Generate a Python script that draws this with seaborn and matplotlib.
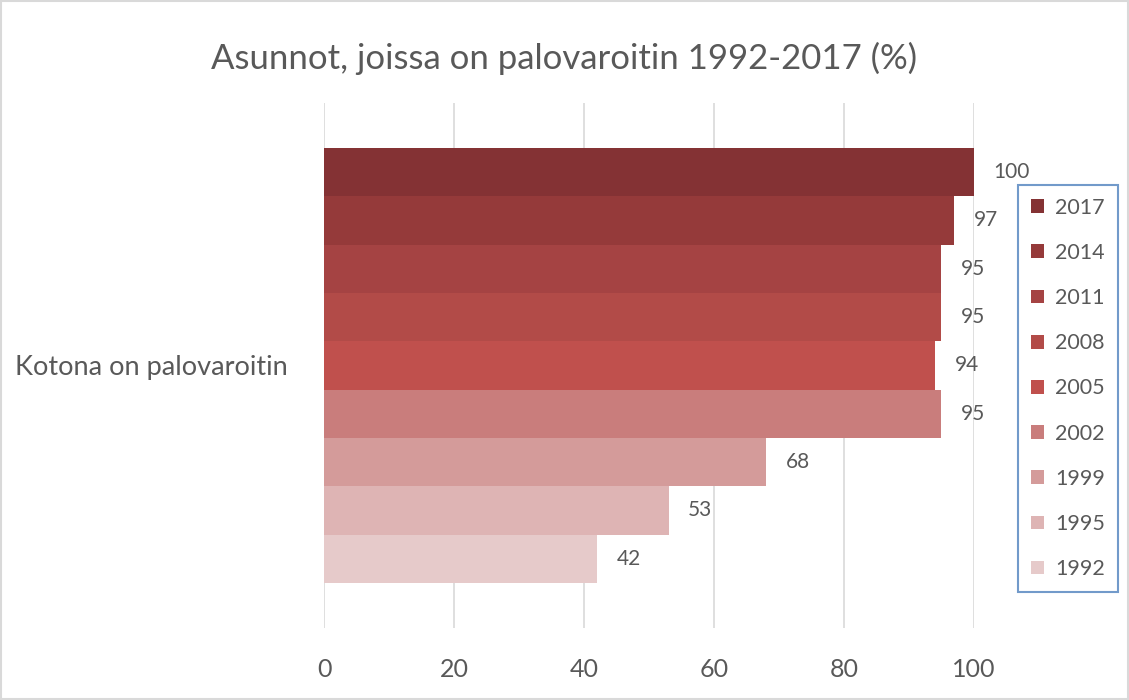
import matplotlib.pyplot as plt
import seaborn as sns
import pandas as pd

# data (top to bottom as in the chart)
vuodet = ['2017', '2014', '2011', '2008', '2005', '2002', '1999', '1995', '1992']
osuudet = [100, 97, 95, 95, 94, 95, 68, 53, 42]
kategoria = 'Kotona on palovaroitin'
varit = ['#843234', '#953A3A', '#A54343', '#B24B48', '#C0504D',
         '#C97D7C', '#D49B9A', '#DEB4B4', '#E6CACA']

df = pd.DataFrame({'Kategoria': [kategoria] * len(vuodet),
                   'Vuosi': vuodet,
                   'Osuus': osuudet})

sns.set_theme(style='white')
plt.rcParams['font.family'] = ['Lato', 'DejaVu Sans']
tekstivari = '#595959'

fig = plt.figure(figsize=(11.29, 7), dpi=100)
ax = fig.add_axes([0.287, 0.103, 0.5757, 0.750])

sns.barplot(data=df, y='Kategoria', x='Osuus', hue='Vuosi', hue_order=vuodet,
            palette=varit, orient='h', width=0.829, gap=0, saturation=1,
            linewidth=0, ax=ax, legend=True)

ax.set_xlim(0, 100)
ax.set_ylim(0.5, -0.5)
ax.set_xticks([0, 20, 40, 60, 80, 100])
ax.grid(axis='x', color='#D9D9D9', linewidth=1.2)
ax.set_axisbelow(True)
for s in ax.spines.values():
    s.set_visible(False)
ax.tick_params(axis='x', labelsize=18, colors=tekstivari, length=0, pad=22)
ax.tick_params(axis='y', labelsize=19.5, colors=tekstivari, length=0, pad=26)
ax.set_xlabel('')
ax.set_ylabel('')

for cont in ax.containers:
    ax.bar_label(cont, fmt='%d', padding=14, fontsize=15, color=tekstivari, clip_on=False)

fig.suptitle('Asunnot, joissa on palovaroitin 1992-2017 (%)', y=0.94,
             fontsize=25, color=tekstivari)

handles, labels = ax.get_legend_handles_labels()
ax.legend_.remove()
leg = fig.legend(handles, labels, loc='upper right', bbox_to_anchor=(0.990, 0.736),
                 borderaxespad=0, frameon=True, fancybox=False, fontsize=15.5,
                 labelspacing=1.17, handlelength=0.6, handleheight=0.6,
                 handletextpad=0.5, borderpad=0.6, labelcolor=tekstivari)
leg.get_frame().set_edgecolor('#4F81BD')
leg.get_frame().set_linewidth(1.5)

fig.patches.append(plt.Rectangle((0.001, 0.001), 0.998, 0.997, transform=fig.transFigure,
                                 fill=False, edgecolor='#D9D9D9', linewidth=1.5))

fig.savefig('out.png', dpi=100)
